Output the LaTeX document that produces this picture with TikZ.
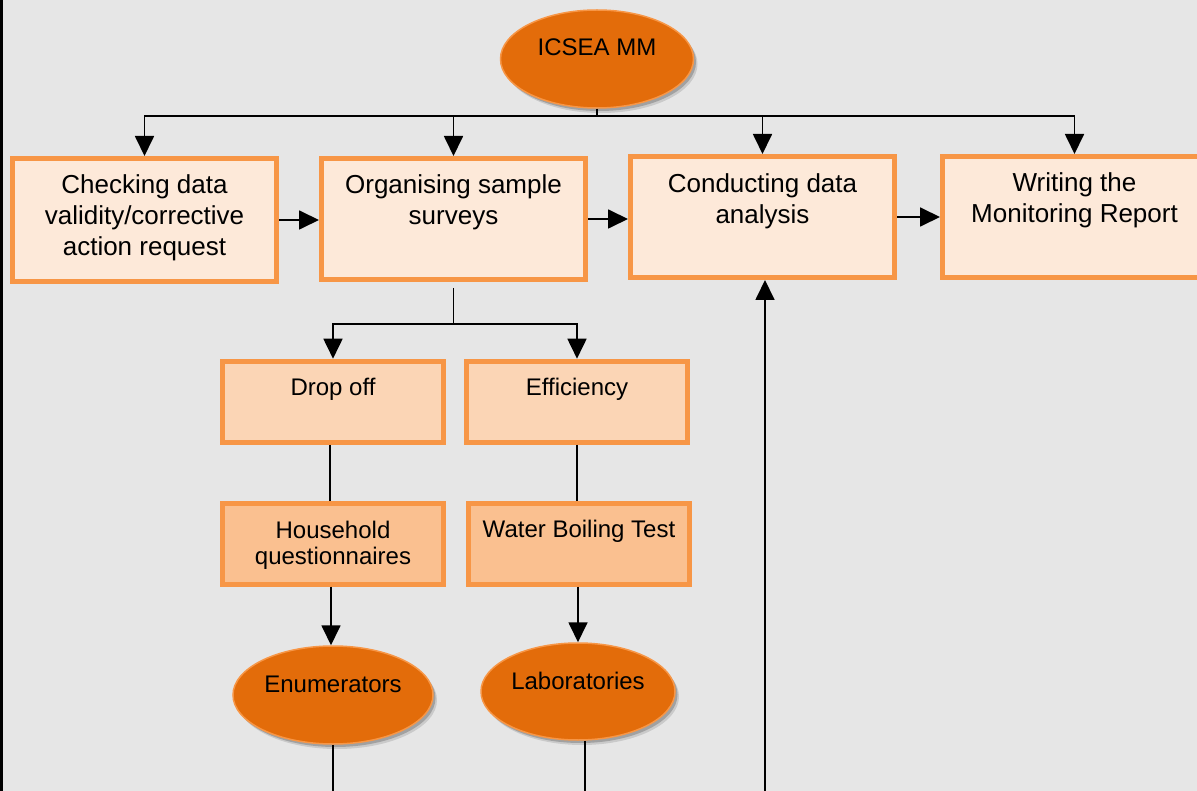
\documentclass[tikz,border=0pt]{standalone}
\usepackage{fontspec}
\setmainfont{Liberation Sans}
\usetikzlibrary{arrows.meta,shadows,shapes.geometric}
\definecolor{bgc}{HTML}{E6E6E6}
\definecolor{boxline}{HTML}{F79646}
\definecolor{fillA}{HTML}{FDE9D9}
\definecolor{fillB}{HTML}{FBD5B5}
\definecolor{fillC}{HTML}{FAC090}
\definecolor{ellfill}{HTML}{E36C0A}
\begin{document}
\begin{tikzpicture}[x=1pt,y=-1pt,
  boxA/.style={rectangle,draw=boxline,line width=5pt,fill=fillA,minimum width=264pt,minimum height=121pt,inner sep=0pt},
  boxB/.style={rectangle,draw=boxline,line width=5pt,fill=fillB,minimum width=221pt,minimum height=81pt,inner sep=0pt},
  boxC/.style={boxB,fill=fillC},
  ell/.style={ellipse,draw=boxline,line width=1.5pt,fill=ellfill,inner sep=0pt,
    drop shadow={shadow xshift=4pt,shadow yshift=-5pt,opacity=0.12,fill=black},
    drop shadow={shadow xshift=2.5pt,shadow yshift=-3pt,opacity=0.2,fill=black}},
  bigtxt/.style={font=\fontsize{26}{31}\selectfont,align=center,inner sep=0pt},
  smtxt/.style={font=\fontsize{24}{26}\selectfont,align=center,inner sep=0pt},
  conn/.style={line width=1.8pt,draw=black},
  arr/.style={conn,-{Triangle[length=20pt,width=19pt]}}
]
\fill[bgc] (0,0) rectangle (1197,791);
\fill[black] (0,0) rectangle (3,791);
\clip (0,0) rectangle (1197,791);

% top ellipse
\node[ell,minimum width=193pt,minimum height=98pt] (top) at (597,59) {};
\node[smtxt] (topt) at ([yshift=11.5pt]top.center) {ICSEA MM};

% main boxes
\node[boxA,minimum height=123pt] (b1) at (144.5,220) {};
\node[boxA] (b2) at (453.5,219) {};
\node[boxA] (b3) at (762.5,217) {};
\node[boxA] (b4) at (1074.5,217) {};
\node[bigtxt] (b1t) at ([yshift=2pt]b1.center) {Checking data\\validity/corrective\\action request};
\node[bigtxt] (b2t) at ([yshift=17pt]b2.center) {Organising sample\\surveys};
\node[bigtxt] (b3t) at ([yshift=16pt]b3.center) {Conducting data\\analysis};
\node[bigtxt] (b4t) at ([yshift=16.5pt]b4.center) {Writing the\\Monitoring Report};

% second level
\node[boxB] (drop) at (333,401.7) {};
\node[boxB] (eff) at (577,401.7) {};
\node[boxC] (hh) at (333,543.7) {};
\node[boxC] (wbt) at (579,543.7) {};
\node[smtxt] (dropt) at ([yshift=12pt]drop.center) {Drop off};
\node[smtxt] (efft) at ([yshift=12pt]eff.center) {Efficiency};
\node[smtxt] (hht) at ([yshift=-2pt]hh.center) {Household\\questionnaires};
\node[smtxt] (wbtt) at ([yshift=12pt]wbt.center) {Water Boiling Test};

% bottom ellipses
\node[ell,minimum width=200pt,minimum height=98pt] (enum) at (333,695) {};
\node[ell,minimum width=194pt,minimum height=97pt] (lab) at (578,691.5) {};
\node[smtxt] (enumt) at ([yshift=11pt]enum.center) {Enumerators};
\node[smtxt] (labt) at ([yshift=10.5pt]lab.center) {Laboratories};

% top bus
\draw[conn] (top.south) -- ++(0,7) coordinate (bus);
\draw[arr] (bus) -| (b1.north);
\draw[arr] (bus) -| (b2.north);
\draw[arr] (bus) -| (b3.north);
\draw[arr] (bus) -| (b4.north);

% horizontal arrows
\draw[arr] (b1.east) -- (b1.east -| b2.west);
\draw[arr] (b2.east) -- (b2.east -| b3.west);
\draw[arr] (b3.east) -- (b3.east -| b4.west);

% branch below b2
\draw[conn] ([yshift=-6pt]b2.south) -- ++(0,36) coordinate (split);
\draw[arr] (split) -| (drop.north);
\draw[arr] (split) -| (eff.north);

\draw[conn] ([xshift=-3pt]drop.south) -- ([xshift=-3pt]hh.north);
\draw[conn] (eff.south) -- (eff.south |- wbt.north);
\draw[arr] ([xshift=-2pt]hh.south) -- ([xshift=-2pt]enum.north);
\draw[arr] (lab.north |- wbt.south) -- (lab.north);

% lines leaving at bottom edge
\coordinate (e1) at (333,791);
\coordinate (e2) at (585,791);
\coordinate (fb) at (765,791);
\draw[conn] (e1 |- enum.south) -- (e1);
\draw[conn] (e2 |- lab.south) -- (e2);
\draw[arr] (fb) -- (fb |- b3.south);
\end{tikzpicture}
\end{document}
